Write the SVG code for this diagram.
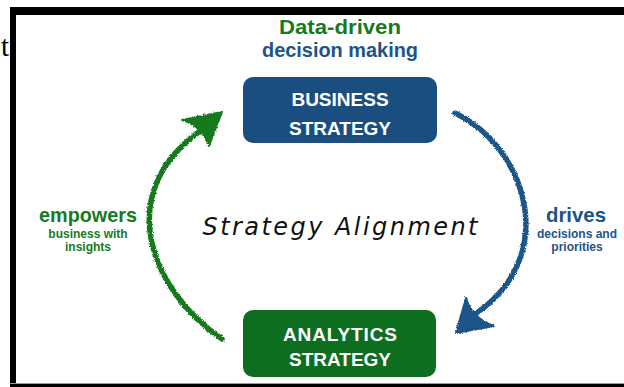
<svg xmlns="http://www.w3.org/2000/svg" width="624" height="387" viewBox="0 0 624 387">
<style>
.lbl{font-family:"Liberation Sans",Arial,sans-serif;font-weight:bold;text-anchor:middle}
.box{font-family:"Liberation Sans",Arial,sans-serif;font-weight:bold;font-size:19px;fill:#ffffff;text-anchor:middle}
.green{fill:#177a1f}
.blue{fill:#1d5488}
.small{font-size:12px}
</style>
<defs>
<filter id="rough" x="-10%" y="-10%" width="120%" height="120%">
<feTurbulence type="fractalNoise" baseFrequency="0.9" numOctaves="2" seed="3" result="n"/>
<feDisplacementMap in="SourceGraphic" in2="n" scale="3" xChannelSelector="R" yChannelSelector="G"/>
</filter>
</defs>
<rect x="0" y="0" width="624" height="387" fill="#ffffff"/>
<g id="frame">
<rect x="10" y="7" width="614" height="8" fill="#000"/>
<rect x="10" y="7" width="6" height="380" fill="#000"/>
<rect x="10" y="383" width="614" height="1" fill="#9a9a9a"/>
<rect x="10" y="384" width="614" height="3" fill="#000"/>
</g>
<text x="1" y="56" font-family="Liberation Serif,serif" font-size="29" fill="#000">t</text>
<g id="title">
<text class="lbl green" x="340" y="34" font-size="20" textLength="122" lengthAdjust="spacingAndGlyphs">Data-driven</text>
<text class="lbl blue" x="340" y="57" font-size="20" textLength="156" lengthAdjust="spacingAndGlyphs">decision making</text>
</g>
<g id="connectors" filter="url(#rough)">
<path d="M222,339 C150,290 110,190 206,127" fill="none" stroke="#177a1f" stroke-width="5.5" stroke-linecap="round"/>
<path d="M222,112 L182,120 Q201,125 209,146 Z" fill="#177a1f" stroke="#177a1f" stroke-width="2" stroke-linejoin="round"/>
<path d="M455,113 C530,150 560,260 472,316" fill="none" stroke="#1d5488" stroke-width="5.5" stroke-linecap="round"/>
<path d="M456,333 L466,298 Q472,318 494,326 Z" fill="#1d5488" stroke="#1d5488" stroke-width="2" stroke-linejoin="round"/>
</g>
<g id="business">
<rect x="243" y="77" width="194" height="66" rx="10" fill="#1b4e80"/>
<text class="box" x="340" y="106">BUSINESS</text>
<text class="box" x="340" y="135">STRATEGY</text>
</g>
<g id="analytics">
<rect x="243" y="310" width="193" height="67" rx="10" fill="#0d6e1f"/>
<text class="box" x="340" y="341" textLength="114">ANALYTICS</text>
<text class="box" x="340" y="366">STRATEGY</text>
</g>
<g id="center">
<text x="340" y="235" font-family="DejaVu Sans,sans-serif" font-style="italic" font-size="24" fill="#111" text-anchor="middle" textLength="275">Strategy Alignment</text>
</g>
<g id="empowers">
<text class="lbl green" x="88" y="222" font-size="21" textLength="98" lengthAdjust="spacingAndGlyphs">empowers</text>
<text class="lbl green small" x="88" y="238">business with</text>
<text class="lbl green small" x="88" y="251">insights</text>
</g>
<g id="drives">
<text class="lbl blue" x="576" y="222" font-size="21" textLength="60" lengthAdjust="spacingAndGlyphs">drives</text>
<text class="lbl blue small" x="577" y="238">decisions and</text>
<text class="lbl blue small" x="577" y="251">priorities</text>
</g>
</svg>
